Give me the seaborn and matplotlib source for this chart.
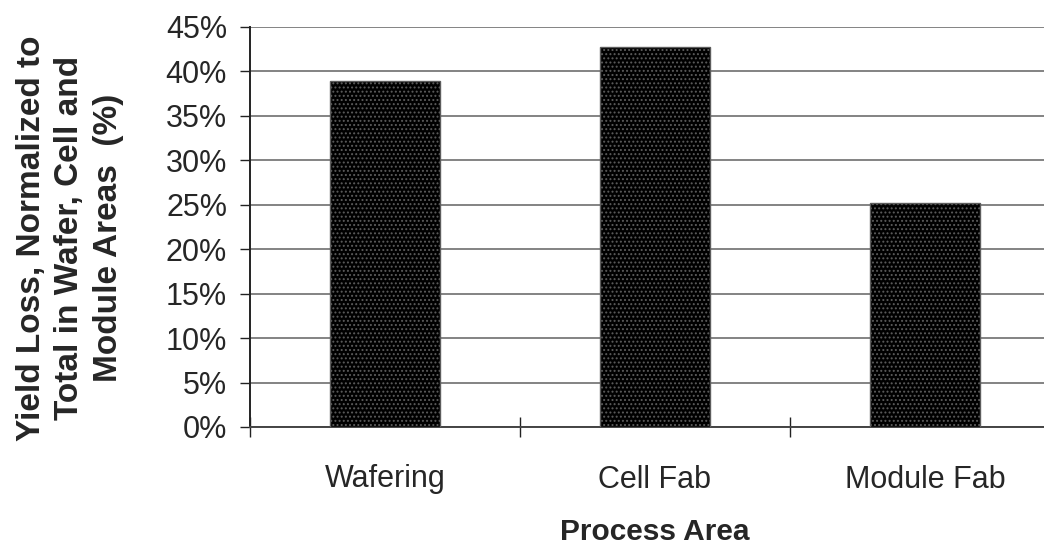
import matplotlib
matplotlib.use("Agg")
import matplotlib.pyplot as plt
import seaborn as sns
import pandas as pd
from matplotlib.ticker import FixedLocator, FuncFormatter

categories = ["Wafering", "Cell Fab", "Module Fab"]
values = [38.9, 42.7, 25.2]
y_ticks = [0, 5, 10, 15, 20, 25, 30, 35, 40, 45]

sns.set_style("white")
plt.rcParams['font.family'] = ['Liberation Sans', 'DejaVu Sans']
plt.rcParams['hatch.linewidth'] = 0.9

df = pd.DataFrame({"area": categories, "loss": values})

fig = plt.figure(figsize=(10.44, 5.46), dpi=100)
ax = fig.add_axes([250/1044, 1-427/546, 810/1044, 400/546])

sns.barplot(data=df, x="area", y="loss", ax=ax, width=0.405,
            color="black", saturation=1, edgecolor="#5c5c5c", linewidth=1,
            hatch="....", zorder=3)
for p in ax.patches:
    p.set_facecolor("#000000")

ax.set_xlim(-0.5, 2.5)
ax.set_ylim(0, 45)
ax.set_yticks(y_ticks)
ax.yaxis.set_major_formatter(FuncFormatter(lambda v, pos: f"{int(v)}%"))
ax.yaxis.grid(True, color="#6e6e6e", linewidth=1.2, zorder=0)
ax.set_axisbelow(True)

for s in ["top", "right"]:
    ax.spines[s].set_visible(False)
ax.spines["left"].set_color("#222222")
ax.spines["left"].set_linewidth(1.4)
ax.spines["bottom"].set_color("#444444")
ax.spines["bottom"].set_linewidth(1.4)

ax.tick_params(axis="y", which="major", direction="out", length=7.5, width=1,
               color="#222222", labelsize=22, pad=9, left=True)
ax.tick_params(axis="x", which="major", length=0, labelsize=22, pad=27)
ax.xaxis.set_minor_locator(FixedLocator([-0.5, 0.5, 1.5, 2.5]))
ax.tick_params(axis="x", which="minor", direction="inout", length=15, width=1,
               color="#222222", bottom=True)

ax.set_xlabel("Process Area", fontsize=21.5, fontweight="bold", labelpad=17)
ax.set_ylabel("Yield Loss, Normalized to\nTotal in Wafer, Cell and\nModule Areas  (%)",
              fontsize=24, fontweight="bold", linespacing=1.32)
ax.yaxis.set_label_coords(-126/810, (427-238)/400)

fig.savefig("out.png", dpi=100)
